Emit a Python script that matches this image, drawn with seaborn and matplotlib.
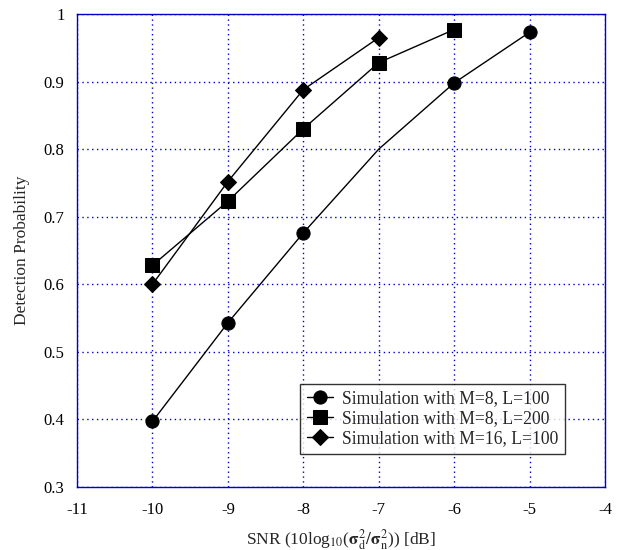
import numpy as np
import pandas as pd
import matplotlib
matplotlib.use('Agg')
import matplotlib.pyplot as plt
import seaborn as sns

# values
snr_a = [-10, -9, -8, -7, -6, -5]
pd_a = [0.397, 0.543, 0.676, 0.800, 0.898, 0.973]
snr_b = [-10, -9, -8, -7, -6]
pd_b = [0.628, 0.723, 0.830, 0.928, 0.977]
snr_c = [-10, -9, -8, -7]
pd_c = [0.600, 0.752, 0.888, 0.965]
labels = ['Simulation with M=8, L=100',
          'Simulation with M=8, L=200',
          'Simulation with M=16, L=100']
x_ticks = [-11, -10, -9, -8, -7, -6, -5, -4]
y_ticks = [0.3, 0.4, 0.5, 0.6, 0.7, 0.8, 0.9, 1.0]

sns.set_style('white')
plt.rcParams['font.family'] = ['Liberation Serif', 'DejaVu Serif']
plt.rcParams['mathtext.fontset'] = 'stix'

df = pd.concat([
    pd.DataFrame({'snr': snr_a, 'pd': pd_a, 'series': labels[0]}),
    pd.DataFrame({'snr': snr_b, 'pd': pd_b, 'series': labels[1]}),
    pd.DataFrame({'snr': snr_c, 'pd': pd_c, 'series': labels[2]}),
])

fig = plt.figure(figsize=(6.25, 5.5), dpi=100)
ax = fig.add_axes([0.1232, 0.1145, 0.8448, 0.86])

markers = ['o', 's', 'D']
sizes = [9.5, 9.5, 8.5]
for lab, m, ms in zip(labels, markers, sizes):
    d = df[df['series'] == lab]
    sns.lineplot(data=d, x='snr', y='pd', ax=ax, color='black', lw=1.0,
                 label=lab, sort=False)
    line = ax.lines[-1]
    line.set_marker(m)
    line.set_markersize(ms)
    line.set_markerfacecolor('black')
    line.set_markeredgecolor('black')
    if lab == labels[0]:
        # no marker drawn at -7 dB in the original
        line.set_markevery([0, 1, 2, 4, 5])

ax.set_xlim(-11, -4)
ax.set_ylim(0.3, 1.0)
ax.set_xticks(x_ticks)
ax.set_yticks(y_ticks)
ax.set_xticklabels([str(t) for t in x_ticks])
ax.set_yticklabels(['0.3', '0.4', '0.5', '0.6', '0.7', '0.8', '0.9', '1'])
ax.grid(True, color='#0000cc', linestyle=(0, (1, 2.5)), linewidth=1.0)
for s in ax.spines.values():
    s.set_color('#0000cc')
    s.set_linewidth(1.0)
ax.tick_params(direction='in', color='#0000cc', length=5, labelsize=12,
               labelcolor='black')
ax.tick_params(axis='x', pad=11)
ax.tick_params(axis='y', pad=9)
ax.set_xlabel(r'SNR (10log$_{10}$($\mathbf{\sigma}_\mathrm{d}^2/\mathbf{\sigma}_\mathrm{n}^2$)) [dB]',
              fontsize=12.5, labelpad=6)
ax.set_ylabel('Detection Probability', fontsize=12.5, labelpad=10)

leg = ax.legend(loc='lower right', bbox_to_anchor=(0.925, 0.07), fontsize=12.7,
                frameon=True, fancybox=False, handlelength=1.5,
                borderpad=0.4, labelspacing=0.15, handletextpad=0.5,
                borderaxespad=0.0)
leg.get_frame().set_edgecolor('black')
leg.get_frame().set_linewidth(1.0)

fig.savefig('out.png', dpi=100)
